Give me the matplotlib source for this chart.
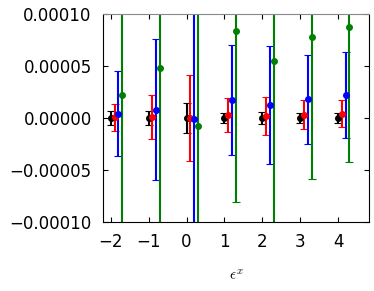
import matplotlib
matplotlib.use("Agg")
import matplotlib.pyplot as plt
import numpy as np
from matplotlib.ticker import FuncFormatter

# -------------------------
# Data (values in units of 1e-6)
# -------------------------
eps = [-2, -1, 0, 1, 2, 3, 4]

black_y = [0, 0, 0, 0, 0, 0, 0]
black_err = [7, 7, 14, 5, 6, 4.5, 5]

red_y = [0.5, 1, 0, 3, 2, 3, 4]
red_err = [13, 21, 41, 16.5, 18, 14, 13]

blue_y = [4, 8, -1, 17.5, 12.5, 18, 22]
blue_err = [41, 68, 300, 53, 57, 43, 41]

green_y = [22, 48, -8, 84, 55, 77.5, 87.5]
green_err = [300, 300, 300, 165, 300, 136, 130]

series = [
    (black_y, black_err, "black", 0.0),
    (red_y, red_err, "red", 0.1),
    (blue_y, blue_err, "blue", 0.2),
    (green_y, green_err, "green", 0.3),
]

# -------------------------
# Plot
# -------------------------
fig = plt.figure(figsize=(3.74, 2.91), dpi=100)
ax = fig.add_axes([0.275, 0.237, 0.712, 0.715])

x = np.array(eps, dtype=float)
for yv, ev, color, off in series:
    ax.errorbar(x + off, np.array(yv) * 1e-6, yerr=np.array(ev) * 1e-6,
                fmt="o", color=color, ms=4, elinewidth=1.5,
                capsize=3, capthick=0.8)

ax.set_xlim(-2.21, 4.82)
ax.set_ylim(-0.0001, 0.0001)
ax.set_xticks(eps)
ax.set_yticks([-0.0001, -0.00005, 0, 0.00005, 0.0001])
ax.yaxis.set_major_formatter(
    FuncFormatter(lambda v, p: ("%.5f" % v).replace("-", "\u2212")))
ax.tick_params(direction="in", top=True, right=True, labelsize=12, pad=8)
ax.spines["top"].set_color("#888888")
ax.set_xlabel(r"$\epsilon^x$", fontsize=11, math_fontfamily="cm", labelpad=12)

plt.savefig("out.png", dpi=100)
